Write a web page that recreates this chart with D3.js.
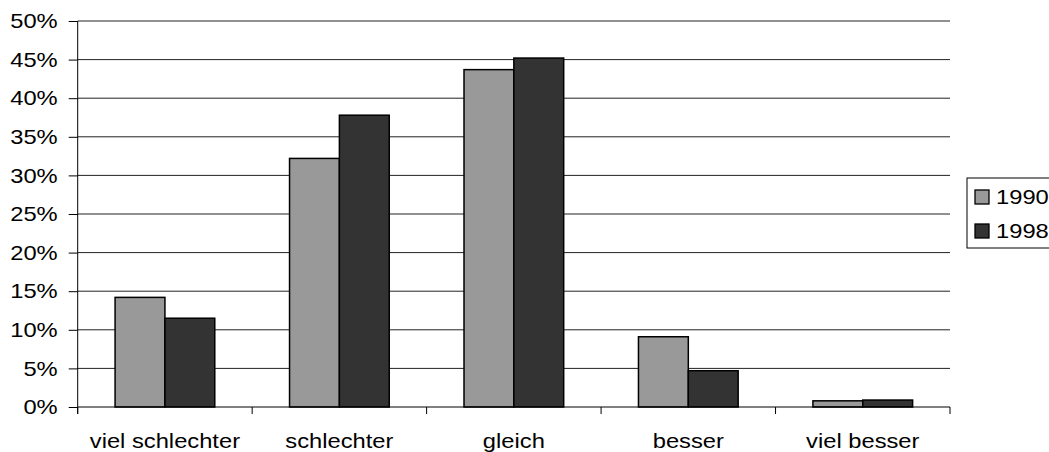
<!DOCTYPE html>
<html>
<head>
<meta charset="utf-8">
<script src="https://cdn.jsdelivr.net/npm/d3@7"></script>
<style>
  body { margin: 0; background: #fff; }
  text { font-family: "Liberation Sans", Arial, sans-serif; fill: #000; }
</style>
</head>
<body>
<div id="chart"></div>
<script>
// Daten
const categories = ["viel schlechter", "schlechter", "gleich", "besser", "viel besser"];
const years = ["1990", "1998"];
const values1990 = [14.2, 32.2, 43.7, 9.1, 0.8];
const values1998 = [11.5, 37.8, 45.2, 4.7, 0.9];
const yTicks = [0, 5, 10, 15, 20, 25, 30, 35, 40, 45, 50];
const colors = ["#999999", "#333333"];

const W = 1049, H = 452;
const x0 = 77.7, x1 = 950, yTop = 21, yBot = 407;
const sx = 1.13; // das Bild ist horizontal gestreckt
const fs = "21px";

const svg = d3.select("#chart").append("svg")
  .attr("width", W).attr("height", H);

let x = d3.scaleBand().domain(categories).range([x0, x1]).paddingInner(0).paddingOuter(0);
let y = d3.scaleLinear().domain([0, 50]).range([yBot, yTop]);
// Excel gap width 150% -> two bars, 1.5 bar gap
let inner = d3.scaleBand().domain(years).range([0, x.bandwidth()]).paddingInner(0).paddingOuter(0.75);

// gridlines
svg.append("g").selectAll("line")
  .data(yTicks.filter(d => d > 0))
  .enter().append("line")
  .attr("x1", x0).attr("x2", x1)
  .attr("y1", d => y(d)).attr("y2", d => y(d))
  .style("stroke", "#222").style("stroke-width", 1);

// y axis
let yAxis = d3.axisLeft(y).tickValues(yTicks).tickSize(9).tickPadding(11)
  .tickFormat(d => d + "%");
let gy = svg.append("g").attr("transform", `translate(${x0},0)`).call(yAxis);
gy.select(".domain").attr("d", `M0,${yTop}V${yBot + 7}`).style("stroke", "#000");
gy.selectAll(".tick line").style("stroke", "#000");
gy.selectAll("text").style("font-size", fs)
  .attr("x", -20 / sx).attr("transform", `scale(${sx},1)`);

// bars
const series = [values1990, values1998];
series.forEach((vals, si) => {
  svg.append("g").selectAll("rect")
    .data(vals)
    .enter().append("rect")
    .attr("x", (d, i) => x(categories[i]) + inner(years[si]))
    .attr("width", inner.bandwidth())
    .attr("y", d => y(d))
    .attr("height", d => yBot - y(d))
    .style("fill", colors[si])
    .style("stroke", "#000")
    .style("stroke-width", 1.5);
});

// x axis
let gx = svg.append("g").attr("transform", `translate(0,${yBot})`);
gx.append("line").attr("x1", x0).attr("x2", x1).style("stroke", "#000");
gx.selectAll("line.tk")
  .data(categories.concat(["end"]))
  .enter().append("line").attr("class", "tk")
  .attr("x1", (d, i) => x0 + i * x.bandwidth())
  .attr("x2", (d, i) => x0 + i * x.bandwidth())
  .attr("y1", 0).attr("y2", 7)
  .style("stroke", "#000");
gx.selectAll("text")
  .data(categories)
  .enter().append("text")
  .attr("transform", d => `translate(${x(d) + x.bandwidth() / 2},41) scale(${sx},1)`)
  .attr("text-anchor", "middle")
  .style("font-size", fs)
  .text(d => d);

// legend
let lg = svg.append("g");
lg.append("rect").attr("x", 967).attr("y", 178).attr("width", 100).attr("height", 70)
  .style("fill", "#fff").style("stroke", "#000").style("stroke-width", 1);
years.forEach((yr, i) => {
  lg.append("rect").attr("x", 975).attr("y", 190 + i * 34).attr("width", 14).attr("height", 14)
    .style("fill", colors[i]).style("stroke", "#000").style("stroke-width", 1.3);
  lg.append("text").attr("transform", `translate(996,${204 + i * 34}) scale(${sx},1)`)
    .style("font-size", fs).text(yr);
});
</script>
</body>
</html>
